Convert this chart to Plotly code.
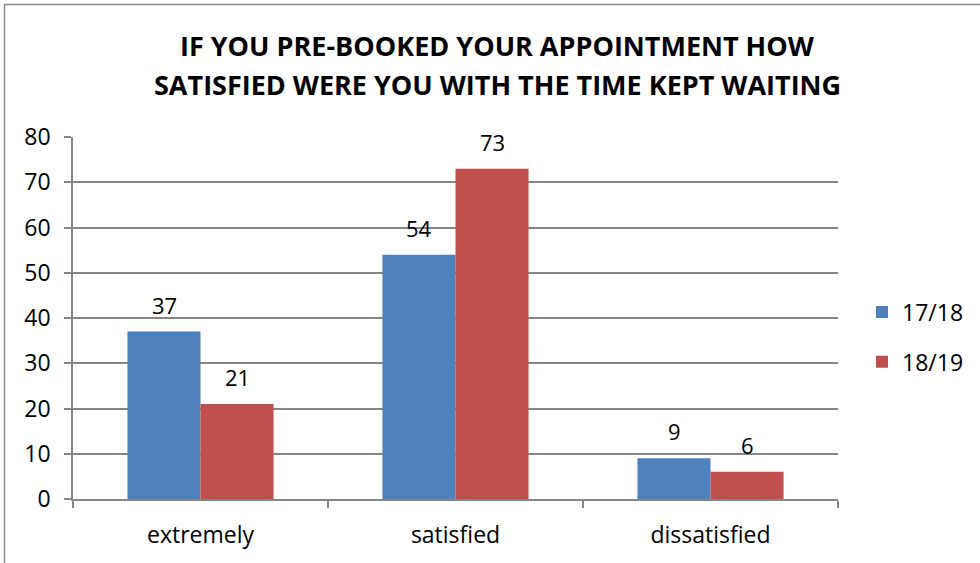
import plotly.graph_objects as go

categories = ["extremely", "satisfied", "dissatisfied"]
series_names = ["17/18", "18/19"]
values_1718 = [37, 54, 9]
values_1819 = [21, 73, 6]
y_ticks = [0, 10, 20, 30, 40, 50, 60, 70, 80]
title_lines = ["IF YOU PRE-BOOKED YOUR APPOINTMENT HOW",
               "SATISFIED WERE YOU WITH THE TIME KEPT WAITING"]

colors = ["#4F81BD", "#C0504D"]
FONT = "Open Sans"
FS = 22
FS_AX = 23

fig = go.Figure()
for name, vals, col in zip(series_names, [values_1718, values_1819], colors):
    fig.add_trace(go.Bar(
        x=categories, y=vals, name=name, marker=dict(color=col, line=dict(width=0)),
        legendgroup=name,
    ))

# data labels
for k, vals in enumerate([values_1718, values_1819]):
    shift = -36.5 if k == 0 else 36.5
    for c, v in zip(categories, vals):
        fig.add_annotation(x=c, y=v, text=str(v), showarrow=False,
                           xshift=shift, yshift=10, yanchor="bottom",
                           font=dict(family=FONT, size=FS, color="#000000"))

L, R, T, B = 73, 142, 137, 64
W, H = 980, 563
pw, ph = W - L - R, H - T - B

# title (two lines)
for line, ypix in zip(title_lines, [45, 84]):
    fig.add_annotation(xref="paper", yref="paper", x=(497 - L) / pw, y=(H - B - ypix) / ph,
                       text="<b>" + line + "</b>", showarrow=False, xanchor="center", yanchor="middle",
                       font=dict(family=FONT, size=27, color="#000000"))

# outer chart border (left/top visible)
fig.add_shape(type="rect", xref="paper", yref="paper",
              x0=(4.5 - L) / pw, x1=1.5, y0=-0.5, y1=(H - B - 4.5) / ph,
              line=dict(color="#8C8C8C", width=1.5), fillcolor="rgba(0,0,0,0)", layer="below")

fig.update_layout(
    width=W, height=H,
    margin=dict(l=L, r=R, t=T, b=B),
    paper_bgcolor="white", plot_bgcolor="white",
    barmode="group", bargap=0.427, bargroupgap=0,
    font=dict(family=FONT, size=FS, color="#000000"),
    showlegend=True,
    legend=dict(xref="container", yref="container", x=862 / W, y=(H - 337) / H,
                xanchor="left", yanchor="middle",
                font=dict(family=FONT, size=FS + 1, color="#000000"), tracegroupgap=17,
                bgcolor="rgba(0,0,0,0)"),
    xaxis=dict(showline=True, linecolor="#868686", linewidth=1.5, ticks="outside",
               tickson="boundaries", ticklen=7, tickcolor="#868686", tickwidth=1.5,
               showgrid=False, ticklabelstandoff=15,
               tickfont=dict(family=FONT, size=FS_AX, color="#000000")),
    yaxis=dict(range=[0, 80], tickvals=y_ticks, showline=True, linecolor="#868686", linewidth=1.5,
               ticks="outside", ticklen=7, tickcolor="#868686", tickwidth=1.5,
               showgrid=True, gridcolor="#868686", gridwidth=1.5, zeroline=False,
               ticklabelstandoff=9,
               tickfont=dict(family=FONT, size=FS_AX, color="#000000")),
)

fig.write_html("out.html", config={"displayModeBar": False},
               post_script="document.body.style.margin='0';document.body.style.padding='0';")
